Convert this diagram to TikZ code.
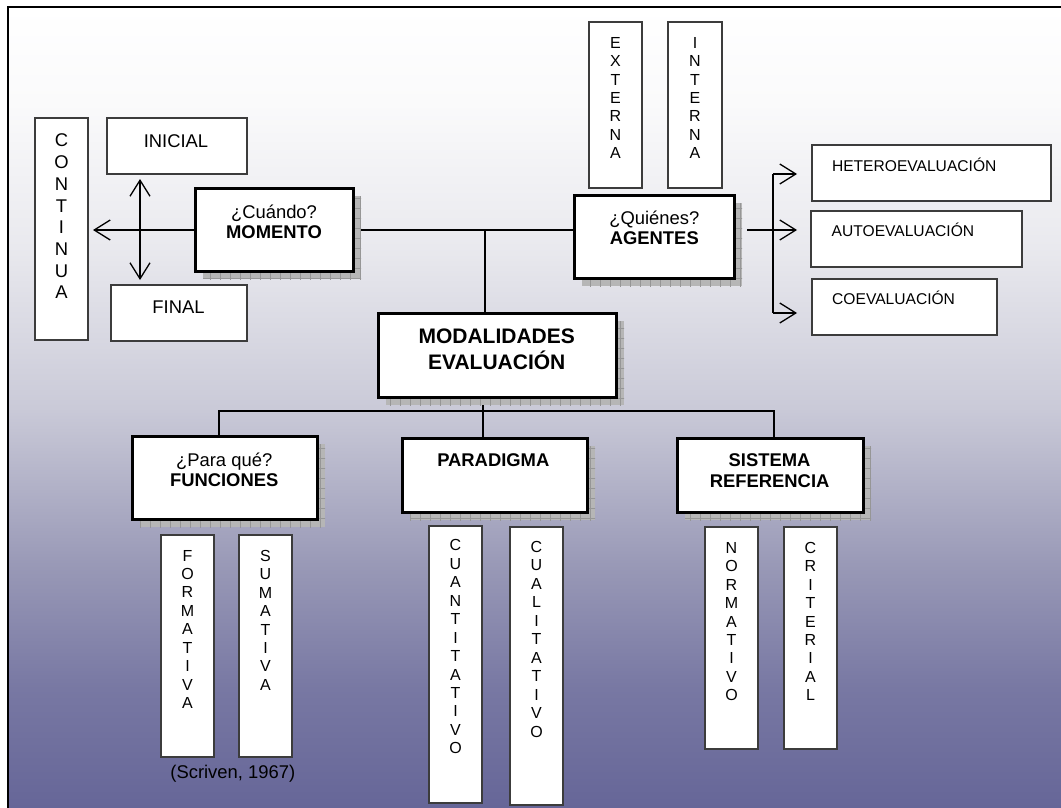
\documentclass[tikz,border=0pt]{standalone}
\usepackage{fontspec}
\setmainfont{Liberation Sans}
\usetikzlibrary{arrows.meta,patterns}

% colours
\definecolor{bgA}{RGB}{250,250,251}
\definecolor{bgB}{RGB}{233,233,238}
\definecolor{bgC}{RGB}{202,202,216}
\definecolor{bgD}{RGB}{152,152,182}
\definecolor{bgE}{RGB}{120,120,163}
\definecolor{bgF}{RGB}{102,102,152}
\definecolor{shadowfill}{RGB}{182,182,182}
\definecolor{shadowline}{RGB}{150,150,150}
\definecolor{boxline}{RGB}{60,60,60}

% page background fading from white to slate blue
\pgfdeclareverticalshading{bgfade}{100bp}{%
  color(0bp)=(bgF); color(25bp)=(bgF); color(32.5bp)=(bgE);
  color(40bp)=(bgD); color(50bp)=(bgC); color(60bp)=(bgB);
  color(69bp)=(bgA); color(75bp)=(white); color(100bp)=(white)}

% grid texture for the drop shadows
\pgfdeclarepatternformonly{shadowgrid}{\pgfpoint{-1pt}{-1pt}}{\pgfpoint{10pt}{10pt}}{\pgfpoint{10pt}{10pt}}{%
  \pgfsetlinewidth{0.8pt}%
  \pgfpathmoveto{\pgfpoint{0pt}{0pt}}\pgfpathlineto{\pgfpoint{10pt}{0pt}}%
  \pgfpathmoveto{\pgfpoint{0pt}{0pt}}\pgfpathlineto{\pgfpoint{0pt}{10pt}}%
  \pgfusepath{stroke}}

\pgfdeclarelayer{bg}
\pgfdeclarelayer{wires}
\pgfsetlayers{bg,wires,main}

\newcommand{\fmid}{\fontsize{18.4}{20}\selectfont}
\newcommand{\fsmall}{\fontsize{15.6}{18}\selectfont}
\newcommand{\fbig}{\fontsize{21}{26}\selectfont}
\newcommand{\fcol}{\fontsize{16}{18.45}\selectfont}
\newcommand{\fcolbig}{\fontsize{18.4}{21.7}\selectfont}
\newcommand{\stackup}[1]{\begin{tabular}[t]{@{}c@{}}#1\end{tabular}}

% heavy box with a textured drop shadow: name, cx, cy, width, height
\newcommand{\heavybox}[5]{%
  \fill[shadowfill] ({#2-#4/2+8},{#3-#5/2+8}) rectangle ({#2+#4/2+8},{#3+#5/2+8});
  \fill[pattern=shadowgrid,pattern color=shadowline] ({#2-#4/2+8},{#3-#5/2+8}) rectangle ({#2+#4/2+8},{#3+#5/2+8});
  \node[heavy,minimum width=#4pt,minimum height=#5pt] (#1) at (#2,#3) {};}
% plain box: name, cx, cy, width, height
\newcommand{\plainbox}[5]{%
  \node[plain,minimum width=#4pt,minimum height=#5pt] (#1) at (#2,#3) {};}

\begin{document}
\begin{tikzpicture}[x=1pt,y=-1pt,
  plain/.style={draw=boxline,line width=1.8pt,fill=white,inner sep=0pt,outer sep=0pt},
  heavy/.style={draw=black,line width=3pt,fill=white,inner sep=0pt,outer sep=0pt},
  lbl/.style={inner sep=0pt,anchor=base,text=black},
  lblw/.style={inner sep=0pt,anchor=base west,text=black},
  wire/.style={draw=black,line width=2.6pt},
  thin/.style={draw=black,line width=1.3pt},
  arr/.style={thin,-{Straight Barb[length=16pt,width=20pt]}},
  arrboth/.style={thin,{Straight Barb[length=16pt,width=20pt]}-{Straight Barb[length=16pt,width=20pt]}}]

\useasboundingbox (0,0) rectangle (1061,808);

\begin{pgfonlayer}{bg}
  \shade[shading=bgfade] (8,7) rectangle (1061,808);
  \draw[line width=2pt] (8,808) -- (8,7);
  \draw[line width=2.6pt] (7,7) -- (1061,7);
\end{pgfonlayer}

% --- boxes ---
\plainbox{continua}{61.5}{229}{53}{222}
\plainbox{inicial}{177}{146}{140}{56}
\plainbox{final}{179}{313}{136}{56}
\heavybox{momento}{274}{229.5}{158}{83}
\plainbox{externa}{615.5}{105}{53}{166}
\plainbox{interna}{695}{105}{54}{166}
\heavybox{agentes}{654}{236.5}{160}{83}
\plainbox{hetero}{931.5}{173}{239}{56}
\plainbox{auto}{916.5}{239}{211}{56}
\plainbox{coev}{904.5}{307}{185}{56}
\heavybox{modal}{497}{355}{238}{84}
\heavybox{funciones}{224.5}{477.5}{185}{83}
\heavybox{paradigma}{494.5}{475}{185}{74}
\heavybox{sistema}{770}{475}{186}{74}
\plainbox{formativa}{187.5}{646}{53}{222}
\plainbox{sumativa}{265.5}{646}{53}{222}
\plainbox{cuanti}{455.5}{664.5}{53}{277}
\plainbox{cuali}{536.5}{666}{53}{278}
\plainbox{normativo}{731.5}{638}{53}{222}
\plainbox{criterial}{810.5}{638}{53}{222}

% --- labels ---
\node[lbl] (continua-t) at (61.5,146.9) {\fcolbig\stackup{C\\O\\N\\T\\I\\N\\U\\A}};
\node[lbl] (inicial-t) at (176,147.6) {\fmid INICIAL};
\node[lbl] (final-t) at (178.5,313.6) {\fmid FINAL};
\node[lbl] (momento-t) at (274,218.6) {\fmid\stackup{¿Cuándo?\\\textbf{MOMENTO}}};
\node[lbl] (externa-t) at (615.5,48.2) {\fcol\stackup{E\\X\\T\\E\\R\\N\\A}};
\node[lbl] (interna-t) at (695,48.2) {\fcol\stackup{I\\N\\T\\E\\R\\N\\A}};
\node[lbl] (agentes-t) at (654.3,224.8) {\fmid\stackup{¿Quiénes?\\\textbf{AGENTES}}};
\node[lblw] (hetero-t) at (831.8,171.4) {\fsmall HETEROEVALUACIÓN};
\node[lblw] (auto-t) at (831.5,236.8) {\fsmall AUTOEVALUACIÓN};
\node[lblw] (coev-t) at (832,304.3) {\fsmall COEVALUACIÓN};
\node[lbl] (modal-t) at (496.7,343.4) {\fbig\stackup{\textbf{MODALIDADES}\\\textbf{EVALUACIÓN}}};
\node[lbl] (funciones-t) at (224.2,466.1) {\fmid\stackup{¿Para qué?\\\textbf{FUNCIONES}}};
\node[lbl] (paradigma-t) at (493.3,466.3) {\fmid\textbf{PARADIGMA}};
\node[lbl] (sistema-t) at (769.6,466.3) {\fontsize{18.4}{21.5}\selectfont\stackup{\textbf{SISTEMA}\\\textbf{REFERENCIA}}};
\node[lbl] (formativa-t) at (187.5,561) {\fcol\stackup{F\\O\\R\\M\\A\\T\\I\\V\\A}};
\node[lbl] (sumativa-t) at (265.5,561.2) {\fcol\stackup{S\\U\\M\\A\\T\\I\\V\\A}};
\node[lbl] (scriven) at (232.8,778.8) {\fmid (Scriven, 1967)};
\node[lbl] (cuanti-t) at (455.5,550.9) {\fcol\stackup{C\\U\\A\\N\\T\\I\\T\\A\\T\\I\\V\\O}};
\node[lbl] (cuali-t) at (536.5,552.5) {\fcol\stackup{C\\U\\A\\L\\I\\T\\A\\T\\I\\V\\O}};
\node[lbl] (normativo-t) at (731.5,553.2) {\fcol\stackup{N\\O\\R\\M\\A\\T\\I\\V\\O}};
\node[lbl] (criterial-t) at (810.5,553.2) {\fcol\stackup{C\\R\\I\\T\\E\\R\\I\\A\\L}};

% --- connectors ---
\coordinate (jtop) at (485,230);
\coordinate (jbot) at (483,411);
\coordinate (jl) at (219,411);
\coordinate (jr) at (774,411);
\coordinate (vx) at (140,230);
\coordinate (tailM) at (747,230);
\coordinate (forkT) at (773,174);
\coordinate (forkB) at (773,313);
\coordinate (tipM) at (797,230);
\coordinate (tipT) at (797,174);
\coordinate (tipB) at (797,313);

\begin{pgfonlayer}{wires}
  \draw[wire] (momento.east |- jtop) -- (agentes.west |- jtop);
  \draw[wire] (jtop) -- (jtop |- modal.north);
  \draw[wire] (jbot |- modal.south) -- (jbot |- paradigma.north);
  \draw[wire] (jl |- funciones.north) -- (jl) -- (jr) -- (jr |- sistema.north);

  \draw[arr,shorten >=5pt] (momento.west |- jtop) -- (continua.east |- jtop);
  \draw[arrboth,shorten >=5pt,shorten <=5pt] (inicial.south -| vx) -- (final.north -| vx);

  \draw[arr] (tailM) -- (tipM);
  \draw[thin] (forkT) -- (forkB);
  \draw[arr] (forkT) -- (tipT);
  \draw[arr] (forkB) -- (tipB);
\end{pgfonlayer}
\end{tikzpicture}
\end{document}
